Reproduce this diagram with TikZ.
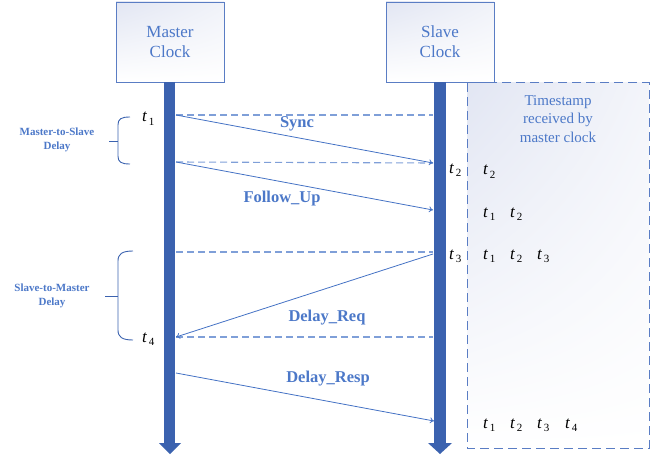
\documentclass[tikz,border=0pt]{standalone}
\usepackage{fontspec}
\setmainfont{Liberation Serif}
\usetikzlibrary{arrows.meta,shadings}
\definecolor{barc}{HTML}{3B62AF}
\definecolor{lnc}{HTML}{4472C4}
\definecolor{dashc}{HTML}{7F9FD8}
\definecolor{txtc}{HTML}{4C78C8}
\definecolor{boxc}{HTML}{5A7DC4}
\definecolor{shdc}{HTML}{E2E6F3}
\newcommand{\tsub}[1]{{\fontsize{17}{17}\selectfont\itshape t}\kern2pt\raisebox{-3.5pt}{\fontsize{11}{11}\selectfont #1}}
\begin{document}
\begin{tikzpicture}[x=1pt,y=-1pt,
  clock/.style={draw=boxc, line width=0.9pt, minimum width=108pt, minimum height=80pt,
    upper left=shdc, upper right=shdc!50!white, lower left=white, lower right=white,
    align=center, text=txtc, font=\fontsize{17}{20}\selectfont},
  msg/.style={draw=lnc, line width=0.8pt, -{To[length=4pt,width=6pt]}},
  ref/.style={draw=dashc, line width=1.1pt, dash pattern=on 7pt off 4pt},
  mlabel/.style={text=txtc, font=\fontsize{16.5}{18}\selectfont\bfseries},
  blabel/.style={text=txtc, align=center, font=\fontsize{11}{13.5}\selectfont\bfseries},
  tlab/.style={anchor=base west, inner sep=0pt},
  brace/.style={draw=barc, line width=0.9pt}
]
\useasboundingbox (0,0) rectangle (663,457);

% timestamp box
\path[draw=boxc, line width=1pt, dash pattern=on 9pt off 5pt,
  upper left=shdc, upper right=shdc!40!white, lower left=white, lower right=white]
  (467,83) rectangle (649,448);
\node[text=txtc, align=center, font=\fontsize{15}{18.5}\selectfont] (tsbox) at (558,119)
  {Timestamp\\received by\\master clock};

% clocks
\node[clock] (master) at (170,42) {Master\\Clock};
\node[clock] (slave) at (440,42) {Slave\\Clock};

% time bars
\fill[barc] (164,82) rectangle (175,443);
\fill[barc] (159,443) -- (181,443) -- (170,454) -- cycle;
\fill[barc] (434,82) rectangle (446,443);
\fill[barc] (428,443) -- (452,443) -- (440,454) -- cycle;

% coordinates
\coordinate (m1) at (176,115); \coordinate (s1) at (433,115);
\coordinate (m2) at (176,162); \coordinate (s2) at (433,163);
\coordinate (m3) at (176,252); \coordinate (s3) at (433,252);
\coordinate (m4) at (176,337); \coordinate (s4) at (433,337);
\coordinate (m5) at (176,373); \coordinate (s5) at (434,421);
\coordinate (s2b) at (433,210);
\coordinate (s3b) at (433,254);

% reference dashed lines
\draw[ref] (m1) -- (s1);
\draw[ref] (m2) -- (s2);
\draw[ref] (m3) -- (s3);
\draw[ref] (m4) -- (s4);

% messages
\draw[msg] (m1) -- (s2);
\draw[msg] (m2) -- (s2b);
\draw[msg] (s3b) -- (m4);
\draw[msg] (m5) -- (s5);

\node[mlabel] (lsync) at (297,124) {Sync};
\node[mlabel] (lfol) at (282,199) {Follow\_Up};
\node[mlabel] (lreq) at (327,318) {Delay\_Req};
\node[mlabel] (lresp) at (328,379) {Delay\_Resp};

% timestamps at clocks
\node[tlab] (tm1) at (142,122) {\tsub{1}};
\node[tlab] (tm4) at (142,342) {\tsub{4}};
\node[tlab] (ts2) at (449,173) {\tsub{2}};
\node[tlab] (ts3) at (449,259) {\tsub{3}};

% timestamps in box
\node[tlab] (b1a) at (483,175) {\tsub{2}};
\node[tlab] (b2a) at (483,217) {\tsub{1}};
\node[tlab] (b2b) at (510,217) {\tsub{2}};
\node[tlab] (b3a) at (483,259) {\tsub{1}};
\node[tlab] (b3b) at (510,259) {\tsub{2}};
\node[tlab] (b3c) at (537,259) {\tsub{3}};
\node[tlab] (b4a) at (483,428) {\tsub{1}};
\node[tlab] (b4b) at (510,428) {\tsub{2}};
\node[tlab] (b4c) at (537,428) {\tsub{3}};
\node[tlab] (b4d) at (565,428) {\tsub{4}};

% braces
\draw[brace] (130,117) .. controls (121,117) and (118,119) .. (118,125) -- (118,156)
  .. controls (118,162) and (121,164) .. (130,164);
\draw[brace] (109,141) -- (118,141);
\draw[brace] (133,251) .. controls (122,251) and (118,254) .. (118,261) -- (118,330)
  .. controls (118,337) and (122,340) .. (133,340);
\draw[brace] (105,296) -- (118,296);

\node[blabel] (lms) at (57,140) {Master-to-Slave\\Delay};
\node[blabel] (lsm) at (52,296) {Slave-to-Master\\Delay};
\end{tikzpicture}
\end{document}
